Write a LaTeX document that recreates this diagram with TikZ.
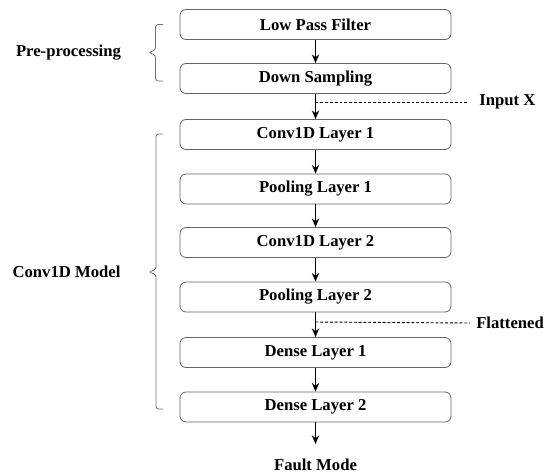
\documentclass[tikz,border=0pt]{standalone}
\usepackage{fontspec}
\setmainfont{Liberation Serif}
\usetikzlibrary{arrows.meta}
\begin{document}
\begin{tikzpicture}[x=0.75pt,y=-0.75pt,
  layer/.style={draw=black!60, line width=0.6pt, rounded corners=4.5pt, minimum width=271*0.75pt, minimum height=30*0.75pt, inner sep=0pt, font=\bfseries\fontsize{12.5pt}{14pt}\selectfont, fill=white},
  lbl/.style={inner sep=0pt, font=\bfseries\fontsize{12.5pt}{14pt}\selectfont},
  flow/.style={draw=black, line width=1pt, -{Stealth[length=6.5pt,width=5.5pt]}},
  dashline/.style={draw=black, line width=0.7pt, dash pattern=on 2.2pt off 1.4pt},
  bracket/.style={draw=black!55, line width=0.6pt, rounded corners=2pt}]
\useasboundingbox (0,0) rectangle (550,475);
\node[layer] (lpf) at (315.5,24.5) {Low Pass Filter};
\node[layer] (ds)  at (315.5,78.5) {Down Sampling};
\node[layer] (c1)  at (315.5,134.5) {Conv1D Layer 1};
\node[layer] (p1)  at (315.5,189) {Pooling Layer 1};
\node[layer] (c2)  at (315.5,242.5) {Conv1D Layer 2};
\node[layer] (p2)  at (315.5,297) {Pooling Layer 2};
\node[layer] (d1)  at (315.5,352.5) {Dense Layer 1};
\node[layer] (d2)  at (315.5,407) {Dense Layer 2};
\node[lbl] (fm) at (315.5,465) {Fault Mode};
\coordinate (fmtop) at (315.5,444);
\node[lbl, anchor=west] (inx) at (479,102) {Input X};
\node[lbl, anchor=west] (flat) at (476,323) {Flattened};
\node[lbl] (pre) at (68.5,52.5) {Pre-processing};
\node[lbl] (cm) at (66.5,272) {Conv1D Model};
\draw[flow] (lpf) -- (ds);
\draw[flow] (ds) -- (c1);
\draw[flow] (c1) -- (p1);
\draw[flow] (p1) -- (c2);
\draw[flow] (c2) -- (p2);
\draw[flow] (p2) -- (d1);
\draw[flow] (d1) -- (d2);
\draw[flow] (d2) -- (fmtop);
\coordinate (ix) at (315.5,102);
\coordinate (fx) at (315.5,322);
\draw[dashline] (ix) -- ([xshift=-10*0.75pt]inx.west);
\draw[dashline] (fx) -- ([xshift=-6*0.75pt]flat.west);
\draw[bracket] (163,24.5) -- (155.5,24.5) -- (155.5,50) -- (148.5,52.5) -- (155.5,55) -- (155.5,81) -- (163,81);
\draw[bracket] (163,134) -- (156,134) -- (156,269.5) -- (148.5,272) -- (156,274.5) -- (156,409) -- (163,409);
\end{tikzpicture}
\end{document}
